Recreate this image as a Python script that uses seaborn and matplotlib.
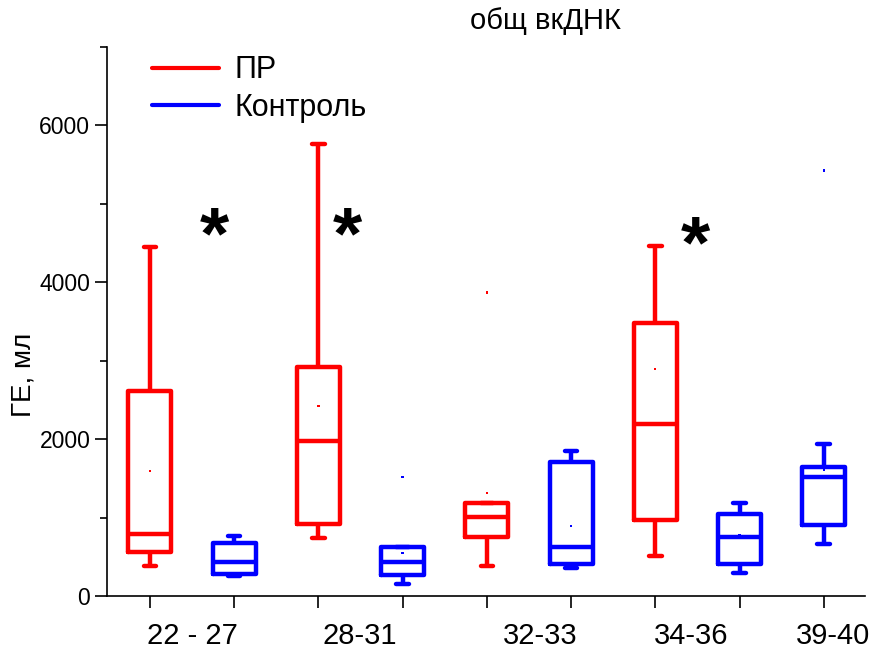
import numpy as np
import pandas as pd
import matplotlib
matplotlib.use("Agg")
import matplotlib.pyplot as plt
from matplotlib.lines import Line2D
import seaborn as sns

# ---- data ----
positions = [1, 2, 3, 4, 5, 6, 7, 8, 9]
groups = ["ПР", "Контроль", "ПР", "Контроль", "ПР", "Контроль", "ПР", "Контроль", "Контроль"]
whis_lo = [383, 255, 740, 153, 383, 357, 511, 294, 664]
q1 = [562, 281, 919, 268, 753, 409, 970, 409, 906]
median = [791, 434, 1979, 434, 1008, 626, 2196, 753, 1519]
q3 = [2617, 677, 2923, 625, 1187, 1711, 3485, 1047, 1647]
whis_hi = [4455, 766, 5757, 630, 1187, 1851, 4468, 1187, 1940]
means = [1596, 447, 2426, 549, 1315, 894, 2898, 770, 1609]
outlier_pos = [4, 5, 9]
outlier_val = [1519, 3869, 5426]
outlier_grp = ["Контроль", "ПР", "Контроль"]

category_labels = ["22 - 27", "28-31", "32-33", "34-36", "39-40"]
category_label_pos = [1.51, 3.49, 5.63, 7.43, 9.11]
star_x = [1.77, 3.35, 7.48]
star_y = [4560, 4560, 4440]

palette = {"ПР": "#ff0000", "Контроль": "#0000ff"}

# long table: five summary values per box (min, q1, median, q3, max)
rows = []
for p, g, a, b, c, d, e in zip(positions, groups, whis_lo, q1, median, q3, whis_hi):
    for v in (a, b, c, d, e):
        rows.append({"pos": p, "group": g, "value": v})
df = pd.DataFrame(rows)
df_mean = pd.DataFrame({"pos": positions, "group": groups, "value": means})
df_out = pd.DataFrame({"pos": outlier_pos, "group": outlier_grp, "value": outlier_val})

sns.set_theme(style="ticks")
plt.rcParams["font.family"] = ["Liberation Sans", "DejaVu Sans"]
plt.rcParams["text.color"] = "black"
plt.rcParams["axes.labelcolor"] = "black"
plt.rcParams["xtick.color"] = "black"
plt.rcParams["ytick.color"] = "black"

fig = plt.figure(figsize=(8.75, 6.53), dpi=100)
ax = fig.add_axes([107 / 875, 1 - 596 / 653, 758 / 875, 549 / 653])

sns.boxplot(data=df, x="pos", y="value", hue="group", palette=palette,
            native_scale=True, dodge=False, whis=(0, 100), fill=False,
            width=0.51, linewidth=3.2, legend=False, ax=ax,
            capwidths=0.15)
sns.scatterplot(data=df_mean, x="pos", y="value", hue="group", palette=palette,
                s=3, marker="s", linewidth=0, legend=False, ax=ax)
sns.scatterplot(data=df_out, x="pos", y="value", hue="group", palette=palette,
                s=3, marker="s", linewidth=0, legend=False, ax=ax)

ax.set_xlim(0.49, 9.49)
ax.set_ylim(0, 7000)
ax.set_yticks([0, 2000, 4000, 6000])
ax.set_yticks([1000, 3000, 5000, 7000], minor=True)
ax.set_xticks(positions)
ax.set_xticklabels([""] * len(positions))
ax.set_xticks(category_label_pos, minor=True)
ax.set_xticklabels(category_labels, minor=True, fontsize=21)
ax.tick_params(axis="x", which="minor", length=0, pad=19)
ax.tick_params(axis="x", which="major", length=8.5, width=1.2, direction="out")
ax.tick_params(axis="y", which="major", length=8.5, width=1.2, labelsize=16.5, direction="out")
ax.tick_params(axis="y", which="minor", length=5, width=1.2, direction="out")
ax.set_xlabel("")
ax.set_ylabel("")

for s in ["top", "right"]:
    ax.spines[s].set_visible(False)
for s in ["left", "bottom"]:
    ax.spines[s].set_linewidth(1.2)
    ax.spines[s].set_color("black")

for x, y in zip(star_x, star_y):
    ax.text(x, y, "*", fontsize=54, fontweight="bold", ha="center", va="center", color="black")

handles = [Line2D([], [], color=palette["ПР"], lw=3),
           Line2D([], [], color=palette["Контроль"], lw=3)]
ax.legend(handles=handles, labels=["ПР", "Контроль"], loc="upper left",
          bbox_to_anchor=(0.059, 0.985), frameon=False, fontsize=22,
          handlelength=2.2, handletextpad=0.5, labelspacing=0.25,
          borderpad=0, borderaxespad=0)

fig.text(23 / 875, 1 - 375 / 653, "ГЕ, мл", fontsize=20, rotation=90,
         ha="center", va="center")
fig.text(545 / 875, 1 - 21 / 653, "общ вкДНК", fontsize=21, ha="center", va="center")

fig.savefig("out.png", dpi=100)
